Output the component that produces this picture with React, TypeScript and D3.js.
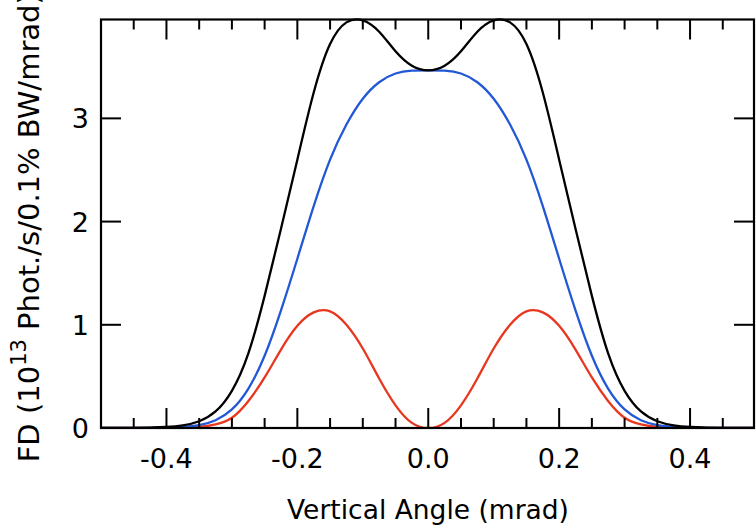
import React from "react";
import * as d3 from "d3";

// Vertical angle (mrad)
const angles = [
  -0.5, -0.475, -0.45, -0.425, -0.4, -0.375, -0.35, -0.325, -0.3, -0.275,
  -0.25, -0.225, -0.2, -0.175, -0.15, -0.125, -0.1, -0.075, -0.05, -0.025,
  0,
  0.025, 0.05, 0.075, 0.1, 0.125, 0.15, 0.175, 0.2, 0.225,
  0.25, 0.275, 0.3, 0.325, 0.35, 0.375, 0.4, 0.425, 0.45, 0.475, 0.5,
];

// Total flux density (black)
const totalFD = [
  0, 0, 0.001, 0.004, 0.01, 0.025, 0.065, 0.16, 0.36, 0.72,
  1.28, 1.93, 2.6, 3.25, 3.72, 3.93, 3.95, 3.84, 3.65, 3.51,
  3.465,
  3.51, 3.65, 3.84, 3.95, 3.93, 3.72, 3.25, 2.6, 1.93,
  1.28, 0.72, 0.36, 0.16, 0.065, 0.025, 0.01, 0.004, 0.001, 0, 0,
];

// Sigma component (blue)
const sigmaFD = [
  0, 0, 0, 0.002, 0.004, 0.01, 0.027, 0.075, 0.18, 0.38,
  0.7, 1.14, 1.64, 2.15, 2.6, 2.94, 3.19, 3.35, 3.435, 3.462,
  3.465,
  3.462, 3.435, 3.35, 3.19, 2.94, 2.6, 2.15, 1.64, 1.14,
  0.7, 0.38, 0.18, 0.075, 0.027, 0.01, 0.004, 0.002, 0, 0, 0,
];

// Pi component (red)
const piFD = [
  0, 0, 0, 0.001, 0.002, 0.003, 0.01, 0.035, 0.1, 0.26,
  0.49, 0.76, 0.99, 1.12, 1.13, 1.0, 0.77, 0.48, 0.22, 0.05,
  0,
  0.05, 0.22, 0.48, 0.77, 1.0, 1.13, 1.12, 0.99, 0.76,
  0.49, 0.26, 0.1, 0.035, 0.01, 0.003, 0.002, 0.001, 0, 0, 0,
];

const xMajorTicks = [-0.4, -0.2, 0.0, 0.2, 0.4];
const xMinorTicks = [-0.45, -0.35, -0.3, -0.25, -0.15, -0.1, -0.05, 0.05, 0.1, 0.15, 0.25, 0.3, 0.35, 0.45];
const yTicks = [0, 1, 2, 3];

const W = 756;
const H = 528;
const left = 101;
const right = 754;
const top = 19.5;
const bottom = 428;

export default function App() {
  const x = d3.scaleLinear().domain([-0.5, 0.5]).range([left, right + 1.5]);
  const y = d3.scaleLinear().domain([0, 3.958]).range([bottom, top]);

  const mk = (vals: number[]) =>
    d3
      .line<number>()
      .x((_, i) => x(angles[i]))
      .y((d) => y(d))
      .curve(d3.curveNatural)(vals) || "";

  const series = [
    { vals: piFD, color: "#e8361f" },
    { vals: sigmaFD, color: "#2257d6" },
    { vals: totalFD, color: "#000000" },
  ];

  const font = "'DejaVu Sans', sans-serif";

  return (
    <svg
      width={W}
      height={H}
      style={{ position: "absolute", left: 0, top: 0, background: "#fff" }}
    >
      <defs>
        <clipPath id="plot">
          <rect x={left} y={top - 2} width={right - left} height={bottom - top + 1} />
        </clipPath>
      </defs>
      <rect x={0} y={0} width={W} height={H} fill="#fff" />
      <g clipPath="url(#plot)">
        {series.map((s, i) => (
          <path key={i} d={mk(s.vals)} fill="none" stroke={s.color} strokeWidth={2.3} />
        ))}
      </g>
      <rect
        x={left}
        y={top}
        width={right - left}
        height={bottom - top}
        fill="none"
        stroke="#000"
        strokeWidth={2.2}
      />
      {xMajorTicks.map((t) => (
        <g key={"M" + t}>
          <line x1={x(t)} x2={x(t)} y1={bottom} y2={bottom - 20} stroke="#000" strokeWidth={2} />
          <line x1={x(t)} x2={x(t)} y1={top} y2={top + 20} stroke="#000" strokeWidth={2} />
          <text
            x={x(t)}
            y={468}
            textAnchor="middle"
            fontFamily={font}
            fontSize={27}
            fill="#000"
          >
            {d3.format(".1f")(t).replace("−", "-")}
          </text>
        </g>
      ))}
      {xMinorTicks.map((t) => (
        <g key={"m" + t}>
          <line x1={x(t)} x2={x(t)} y1={bottom} y2={bottom - 10} stroke="#000" strokeWidth={2} />
          <line x1={x(t)} x2={x(t)} y1={top} y2={top + 10} stroke="#000" strokeWidth={2} />
        </g>
      ))}
      {yTicks.map((t) => (
        <g key={"y" + t}>
          <line x1={left} x2={left + 20} y1={y(t)} y2={y(t)} stroke="#000" strokeWidth={2} />
          <line x1={right} x2={right - 20} y1={y(t)} y2={y(t)} stroke="#000" strokeWidth={2} />
          <text
            x={89}
            y={y(t) + 10}
            textAnchor="end"
            fontFamily={font}
            fontSize={27}
            fill="#000"
          >
            {t}
          </text>
        </g>
      ))}
      <text
        x={428}
        y={519}
        textAnchor="middle"
        fontFamily={font}
        fontSize={26.5}
        fontWeight={500}
        fill="#000"
      >
        Vertical Angle (mrad)
      </text>
      <text
        transform={`translate(39, ${(top + bottom) / 2 + 4}) rotate(-90)`}
        textAnchor="middle"
        fontFamily={font}
        fontSize={29}
        fill="#000"
      >
        FD (10
        <tspan dy={-13} fontSize={21}>13</tspan>
        <tspan dy={13}> Phot./s/0.1% BW/mrad)</tspan>
      </text>
    </svg>
  );
}
